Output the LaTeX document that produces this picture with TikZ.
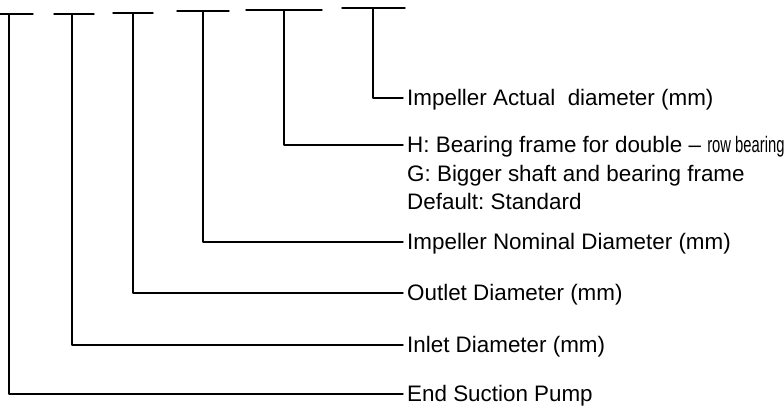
\documentclass[tikz,border=0pt]{standalone}
\usepackage{fontspec}
\setmainfont{Liberation Sans}
\usetikzlibrary{positioning}
\begin{document}
\begin{tikzpicture}[x=1pt, y=-1pt, line width=1.4pt, line cap=round, line join=round,
  lab/.style={anchor=west, inner xsep=3.5pt, inner ysep=2.75pt, text height=18.5pt, text depth=3pt,
    font=\fontsize{22.4}{26}\selectfont\frenchspacing}]
\useasboundingbox (0,0) rectangle (784,406);
\def\xt{403} % labels start here
\node[lab] (act) at (\xt,98) {Impeller Actual\ \ diameter (mm)};
\node[lab] (frm) at (\xt,145) {H: Bearing frame for double -- \scalebox{0.66}[1]{row bearing}};
\node[lab, below=0pt of frm.south west, anchor=north west] (big) {G: Bigger shaft and bearing frame};
\node[lab, below=0pt of big.south west, anchor=north west] (dft) {Default: Standard};
\node[lab] (nom) at (\xt,242) {Impeller Nominal Diameter (mm)};
\node[lab] (out) at (\xt,293) {Outlet Diameter (mm)};
\node[lab] (inl) at (\xt,345) {Inlet Diameter (mm)};
\node[lab] (pmp) at (\xt,394) {End Suction Pump};
% brackets under the code, then down and across to the labels
\foreach \x/\l/\r/\t/\n in {9/0/33/14/pmp, 72/54/94/14/inl, 133/113/153/13/out,
  203/177/229/11/nom, 284/246/322/10/frm, 373/342/405/8/act}
{
  \draw (\l,\t) -- (\r,\t);
  \coordinate (t\n) at (\x,\t);
  \draw (t\n) |- (\n.west);
}
\end{tikzpicture}
\end{document}
